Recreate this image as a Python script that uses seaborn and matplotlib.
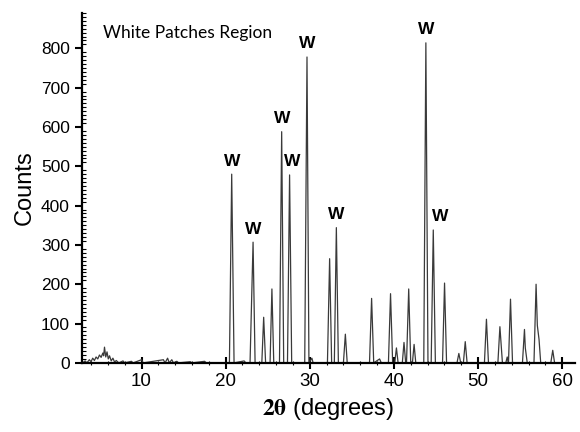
import pandas as pd
import matplotlib
matplotlib.use('Agg')
import matplotlib.pyplot as plt
import seaborn as sns
from matplotlib.ticker import MultipleLocator

# XRD trace (2theta in degrees, counts)
two_theta = [3.0, 3.3, 3.5, 3.8, 4.0, 4.2, 4.4, 4.6, 4.8, 5.0, 5.2, 5.4, 5.5, 5.6, 5.75,
             5.9, 6.05, 6.2, 6.4, 6.6, 6.8, 7.0, 7.3, 7.8, 8.0, 8.8, 9.0, 10.0, 10.2,
             12.6, 12.8, 13.1, 13.3, 13.6, 13.8, 14.2, 14.4, 15.8, 16.0, 17.5, 17.7,
             20.45, 20.72, 21.0, 22.2, 22.4, 22.9, 23.26, 23.5, 24.3, 24.52, 24.75,
             25.28, 25.5, 25.72, 26.4, 26.66, 26.9, 27.35, 27.6, 27.85, 29.4, 29.67,
             29.9, 30.25, 30.4, 32.1, 32.36, 32.6, 32.92, 33.16, 33.4, 34.0, 34.23,
             34.45, 37.1, 37.35, 37.6, 38.3, 38.5, 39.35, 39.6, 39.85, 40.1, 40.3,
             40.5, 41.0, 41.2, 41.4, 41.5, 41.76, 42.0, 42.2, 42.4, 42.6, 43.55, 43.8,
             44.05, 44.43, 44.68, 44.93, 45.78, 46.02, 46.26, 47.5, 47.72, 47.94,
             48.26, 48.48, 48.7, 50.76, 51.0, 51.24, 52.36, 52.6, 52.7, 52.9, 53.3,
             53.47, 53.6, 53.62, 53.86, 54.1, 55.28, 55.52, 55.62, 55.85, 56.65, 56.9,
             57.05, 57.25, 57.45, 58.65, 58.88, 59.1, 61.5]
counts = [0, 5, 0, 8, 3, 12, 6, 15, 10, 20, 14, 25, 18, 40, 15,
          28, 10, 18, 5, 12, 2, 6, 0, 5, 0, 4, 0, 8, 0,
          8, 0, 12, 0, 8, 0, 4, 0, 3, 0, 4, 0,
          0, 480, 0, 5, 0, 0, 307, 0, 0, 116, 0,
          0, 188, 0, 0, 588, 0, 0, 478, 0, 0, 778,
          0, 12, 0, 0, 265, 0, 0, 344, 0, 0, 73,
          0, 0, 164, 0, 10, 0, 0, 176, 0, 0, 38,
          0, 0, 52, 0, 0, 188, 0, 0, 47, 0, 0, 814,
          0, 0, 338, 0, 0, 203, 0, 0, 24, 0,
          0, 54, 0, 0, 111, 0, 0, 92, 60, 0, 0,
          15, 0, 0, 162, 0, 0, 85, 38, 0, 0, 200,
          95, 60, 0, 0, 32, 0, 0]

# peaks marked "W"
w_pos = [20.72, 23.26, 26.66, 27.6, 29.67, 33.16, 43.8, 44.68]
w_counts = [480, 307, 588, 478, 778, 344, 814, 338]
w_shift = [0, 0, 0, 2, 0, 0, 0, 5]

df = pd.DataFrame({'two_theta': two_theta, 'counts': counts})

sns.set_style('ticks')
plt.rcParams['font.family'] = ['Liberation Sans', 'DejaVu Sans']
plt.rcParams['mathtext.fontset'] = 'stix'
plt.rcParams['text.color'] = 'black'
plt.rcParams['axes.labelcolor'] = 'black'
plt.rcParams['xtick.color'] = 'black'
plt.rcParams['ytick.color'] = 'black'

fig, ax = plt.subplots(figsize=(5.8, 4.32), dpi=100)
fig.subplots_adjust(left=0.141, right=0.991, bottom=0.160, top=0.970)

sns.lineplot(data=df, x='two_theta', y='counts', sort=False, color='#3a3a3a',
             linewidth=0.9, ax=ax)

for x, y, dx in zip(w_pos, w_counts, w_shift):
    ax.annotate('W', (x, y), xytext=(dx, 4), textcoords='offset points',
                ha='center', va='bottom', fontsize=12.5, fontweight='bold')

ax.text(5.4, 838, 'White Patches Region', fontsize=12.5, family='Lato',
        va='center', ha='left')

ax.set_xlim(2.9, 61.5)
ax.set_ylim(0, 890)
ax.xaxis.set_major_locator(MultipleLocator(10))
ax.xaxis.set_minor_locator(MultipleLocator(2))
ax.yaxis.set_major_locator(MultipleLocator(100))
ax.yaxis.set_minor_locator(MultipleLocator(10))
ax.tick_params(axis='both', which='major', width=1.5)
ax.tick_params(axis='x', which='major', direction='inout', length=8, labelsize=13.5)
ax.tick_params(axis='y', which='major', direction='out', length=5, labelsize=12.5)
ax.tick_params(axis='x', which='minor', direction='inout', length=3, width=0.8)
ax.tick_params(axis='y', which='minor', direction='in', length=3, width=0.8)

sns.despine(ax=ax)
for s in ['left', 'bottom']:
    ax.spines[s].set_linewidth(1.6)
    ax.spines[s].set_color('black')

ax.set_ylabel('Counts', fontsize=17)
ax.set_xlabel(r'$\mathbf{2\theta}$ (degrees)', fontsize=17)

fig.savefig('out.png', dpi=100)
